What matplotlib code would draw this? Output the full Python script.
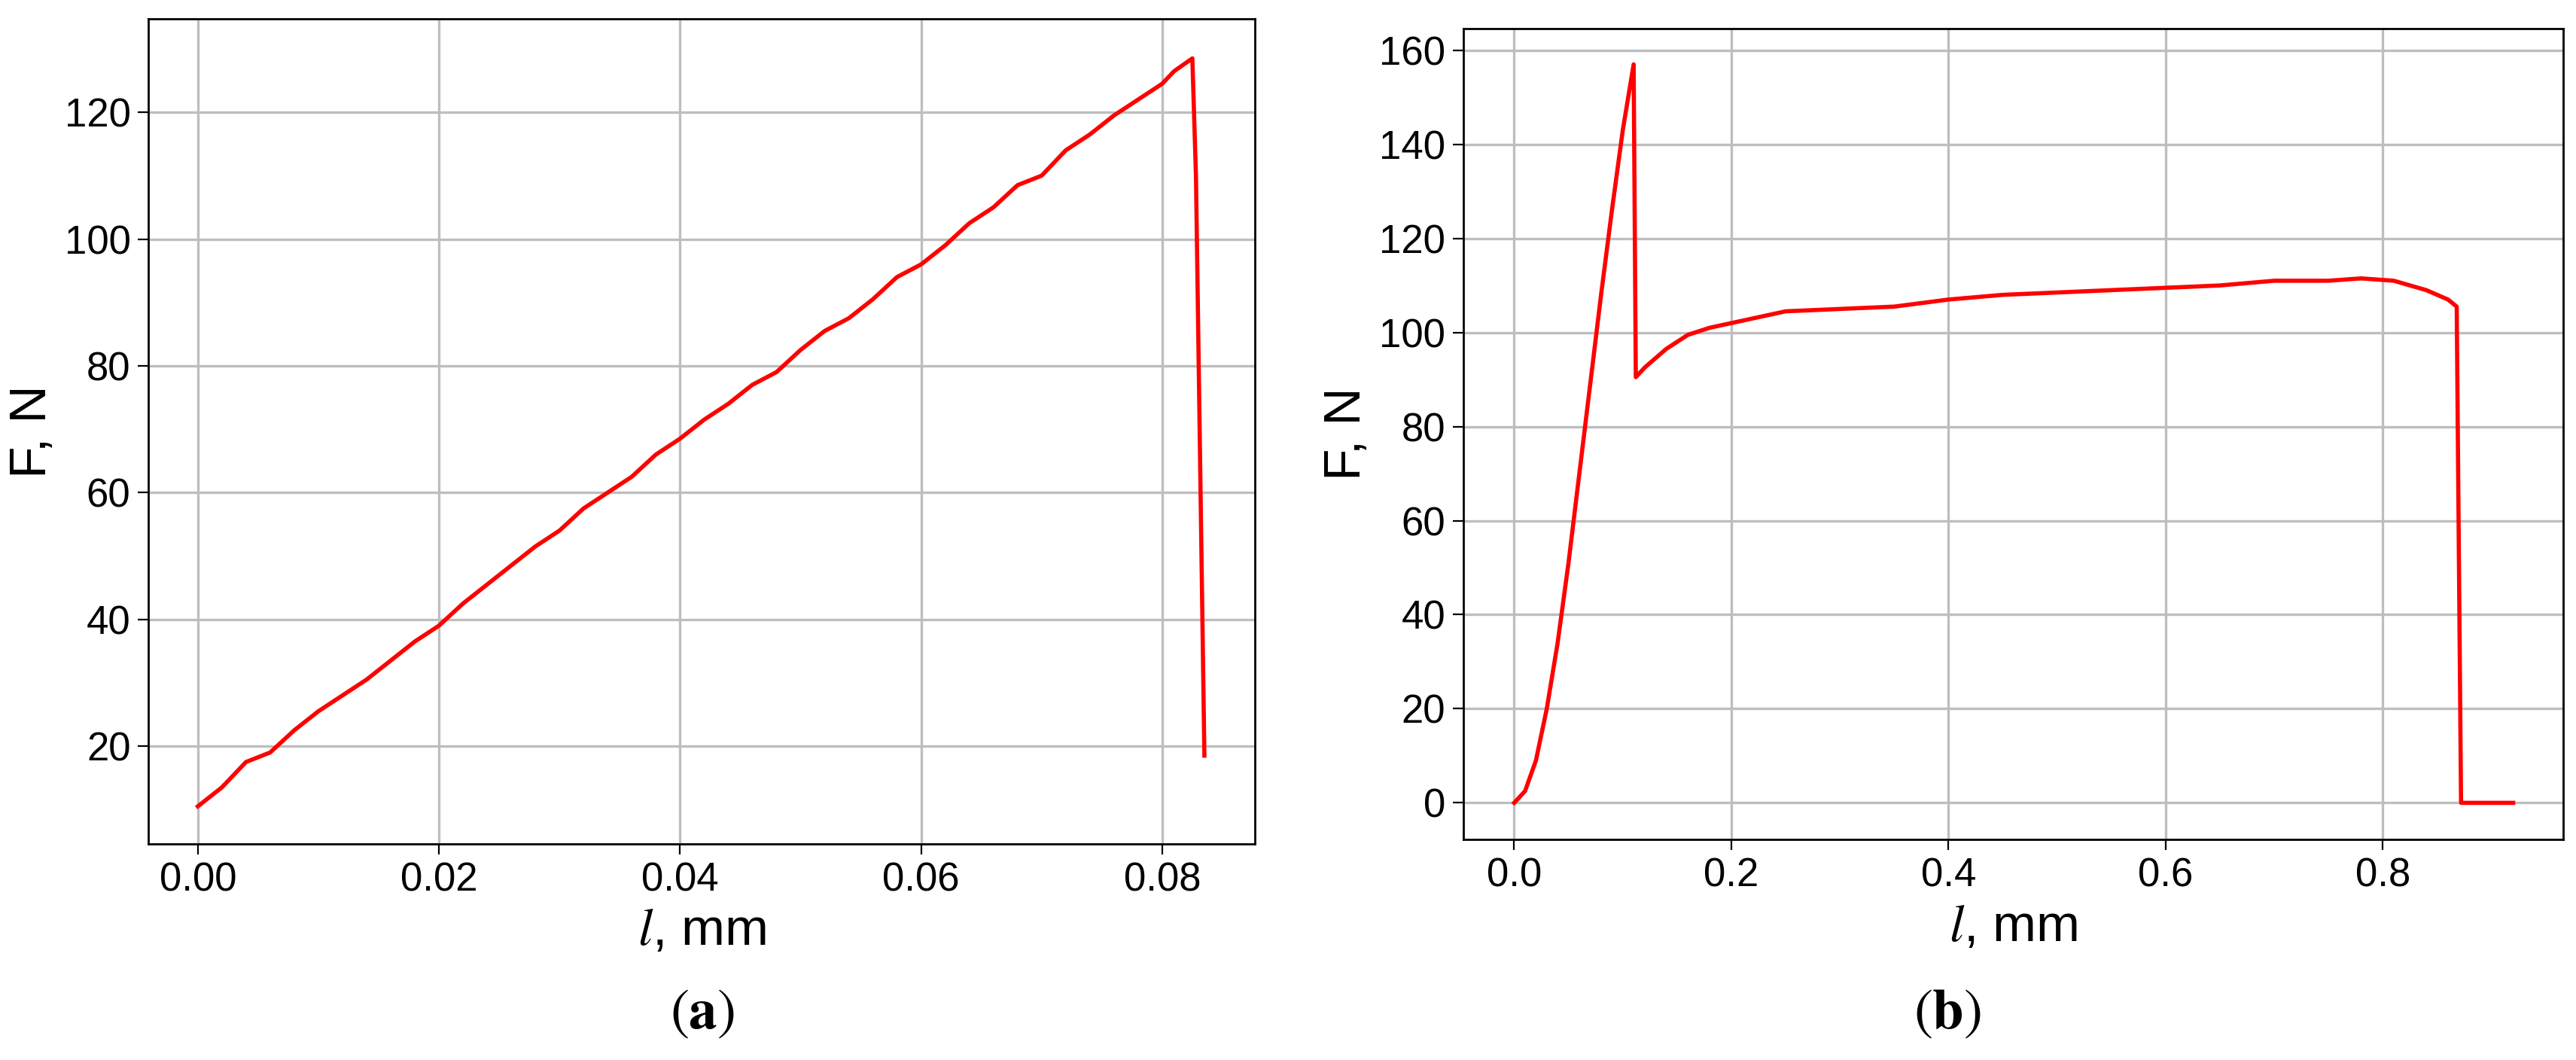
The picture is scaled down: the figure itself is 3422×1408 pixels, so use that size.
import matplotlib
matplotlib.use("Agg")
import matplotlib.pyplot as plt

plt.rcParams['font.family'] = ['Liberation Sans', 'DejaVu Sans']
plt.rcParams['mathtext.fontset'] = 'stix'

# Panel (a)
a_x = [0.0, 0.002, 0.004, 0.006, 0.008, 0.010, 0.012, 0.014, 0.016, 0.018, 0.020, 0.022, 0.024,
       0.026, 0.028, 0.030, 0.032, 0.034, 0.036, 0.038, 0.040, 0.042, 0.044, 0.046, 0.048, 0.050,
       0.052, 0.054, 0.056, 0.058, 0.060, 0.062, 0.064, 0.066, 0.068, 0.070, 0.072, 0.074, 0.076,
       0.078, 0.080, 0.081, 0.0825, 0.0828, 0.0835]
a_y = [10.5, 13.5, 17.5, 19.0, 22.5, 25.5, 28.0, 30.5, 33.5, 36.5, 39.0, 42.5, 45.5,
       48.5, 51.5, 54.0, 57.5, 60.0, 62.5, 66.0, 68.5, 71.5, 74.0, 77.0, 79.0, 82.5,
       85.5, 87.5, 90.5, 94.0, 96.0, 99.0, 102.5, 105.0, 108.5, 110.0, 114.0, 116.5, 119.5,
       122.0, 124.5, 126.5, 128.5, 110.0, 18.5]

# Panel (b)
b_x = [0.0, 0.01, 0.02, 0.03, 0.04, 0.05, 0.06, 0.07, 0.08, 0.09, 0.10, 0.11, 0.112, 0.12,
       0.14, 0.16, 0.18, 0.20, 0.25, 0.30, 0.35, 0.40, 0.45, 0.50, 0.55, 0.60, 0.65, 0.70,
       0.75, 0.78, 0.81, 0.84, 0.86, 0.868, 0.872, 0.90, 0.92]
b_y = [0.0, 2.5, 9.0, 20.0, 34.0, 51.0, 70.0, 89.0, 108.0, 126.0, 143.0, 157.0, 90.5, 92.5,
       96.5, 99.5, 101.0, 102.0, 104.5, 105.0, 105.5, 107.0, 108.0, 108.5, 109.0, 109.5, 110.0, 111.0,
       111.0, 111.5, 111.0, 109.0, 107.0, 105.5, 0.0, 0.0, 0.0]

fig = plt.figure(figsize=(17.11, 7.04), dpi=200)
ax1 = fig.add_axes([0.0576, 0.204, 0.4296, 0.778])
ax2 = fig.add_axes([0.568, 0.208, 0.427, 0.765])

for ax in (ax1, ax2):
    ax.grid(True, color='#bebebe', linewidth=1.2)
    ax.set_axisbelow(True)
    ax.tick_params(labelsize=19, length=5)
    for s in ax.spines.values():
        s.set_linewidth(1.0)

ax1.plot(a_x, a_y, color='#ff0000', linewidth=2)
ax1.set_xlim(-0.0041, 0.0877)
ax1.set_ylim(4.6, 134.7)
ax1.set_xticks([0.0, 0.02, 0.04, 0.06, 0.08])
ax1.set_xticklabels(['0.00', '0.02', '0.04', '0.06', '0.08'])
ax1.set_yticks([20, 40, 60, 80, 100, 120])
ax1.set_xlabel('$\\mathit{l}$, mm', fontsize=25)
ax1.set_ylabel('F, N', fontsize=25)

ax2.plot(b_x, b_y, color='#ff0000', linewidth=2)
ax2.set_xlim(-0.047, 0.966)
ax2.set_ylim(-7.8, 164.6)
ax2.set_xticks([0.0, 0.2, 0.4, 0.6, 0.8])
ax2.set_yticks([0, 20, 40, 60, 80, 100, 120, 140, 160])
ax2.set_xlabel('$\\mathit{l}$, mm', fontsize=25)
ax2.set_ylabel('F, N', fontsize=25)

fig.text(0.2725, 0.03, r'$\mathrm{(}\mathbf{a}\mathrm{)}$', fontsize=27, ha='center')
fig.text(0.756, 0.03, r'$\mathrm{(}\mathbf{b}\mathrm{)}$', fontsize=27, ha='center')

fig.savefig('out.png', dpi=200)
